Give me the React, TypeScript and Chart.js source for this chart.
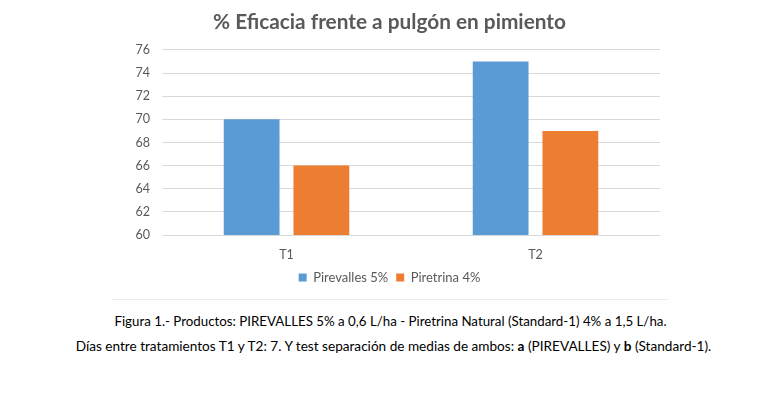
import React, { useEffect, useRef } from "react";
import { Chart, registerables } from "chart.js";

Chart.register(...registerables);

const categories = ["T1", "T2"];
const pirevalles = [70, 75];
const piretrina = [66, 69];
const seriesNames = ["Pirevalles 5%", "Piretrina 4%"];
const titleText = "% Eficacia frente a pulgón en pimiento";

const FONT = "Lato, 'Open Sans', sans-serif";

export default function App() {
  const ref = useRef<HTMLCanvasElement | null>(null);

  useEffect(() => {
    if (!ref.current) return;
    const chart = new Chart(ref.current, {
      type: "bar",
      data: {
        labels: categories,
        datasets: [
          {
            label: seriesNames[0],
            data: pirevalles,
            backgroundColor: "#5B9BD5",
            categoryPercentage: 0.56,
            barPercentage: 0.8,
          },
          {
            label: seriesNames[1],
            data: piretrina,
            backgroundColor: "#ED7D31",
            categoryPercentage: 0.56,
            barPercentage: 0.8,
          },
        ],
      },
      options: {
        animation: false,
        responsive: false,
        maintainAspectRatio: false,
        layout: { padding: { left: 119, right: 121, top: 0, bottom: 0 } },
        plugins: {
          title: {
            display: true,
            text: titleText,
            color: "#595959",
            font: { family: FONT, size: 20.8, weight: "bold" },
            padding: { top: 10, bottom: 15 },
          },
          legend: {
            position: "bottom",
            labels: {
              color: "#595959",
              font: { family: FONT, size: 13 },
              boxWidth: 8,
              boxHeight: 8,
              padding: 8,
            },
          },
          tooltip: { enabled: false },
        },
        scales: {
          x: {
            grid: { display: false },
            border: { display: false },
            ticks: { color: "#595959", font: { family: FONT, size: 12.5 }, padding: 4 },
            afterFit: (s: any) => {
              s.height = 28;
            },
          },
          y: {
            min: 60,
            max: 76,
            ticks: {
              stepSize: 2,
              color: "#595959",
              font: { family: FONT, size: 12.5 },
              padding: 12,
            },
            grid: { color: "#D9D9D9", drawTicks: false },
            border: { display: false },
            afterFit: (s: any) => {
              s.width = 43;
            },
          },
        },
      },
    });
    return () => chart.destroy();
  }, []);

  const captionStyle: React.CSSProperties = {
    position: "absolute",
    left: 0,
    width: 781,
    textAlign: "center",
    fontFamily: FONT,
    fontSize: 13.3,
    color: "#000",
    whiteSpace: "nowrap",
  };

  return (
    <div style={{ position: "absolute", left: 0, top: 0, width: 781, height: 397, background: "#fff" }}>
      <canvas ref={ref} width={781} height={294} style={{ position: "absolute", left: 0, top: 0 }} />
      <div
        style={{
          position: "absolute",
          left: 112,
          top: 299,
          width: 556,
          height: 0,
          borderTop: "1px solid #EBEBEB",
        }}
      />
      <div style={{ ...captionStyle, top: 313 }}>
        Figura 1.- Productos: PIREVALLES 5% a 0,6 L/ha - Piretrina Natural (Standard-1) 4% a 1,5 L/ha.
      </div>
      <div style={{ ...captionStyle, top: 338, left: 3, fontSize: 13.6 }}>
        Días entre tratamientos T1 y T2: 7. Y test separación de medias de ambos: <b>a</b> (PIREVALLES) y{" "}
        <b>b</b> (Standard-1).
      </div>
    </div>
  );
}
